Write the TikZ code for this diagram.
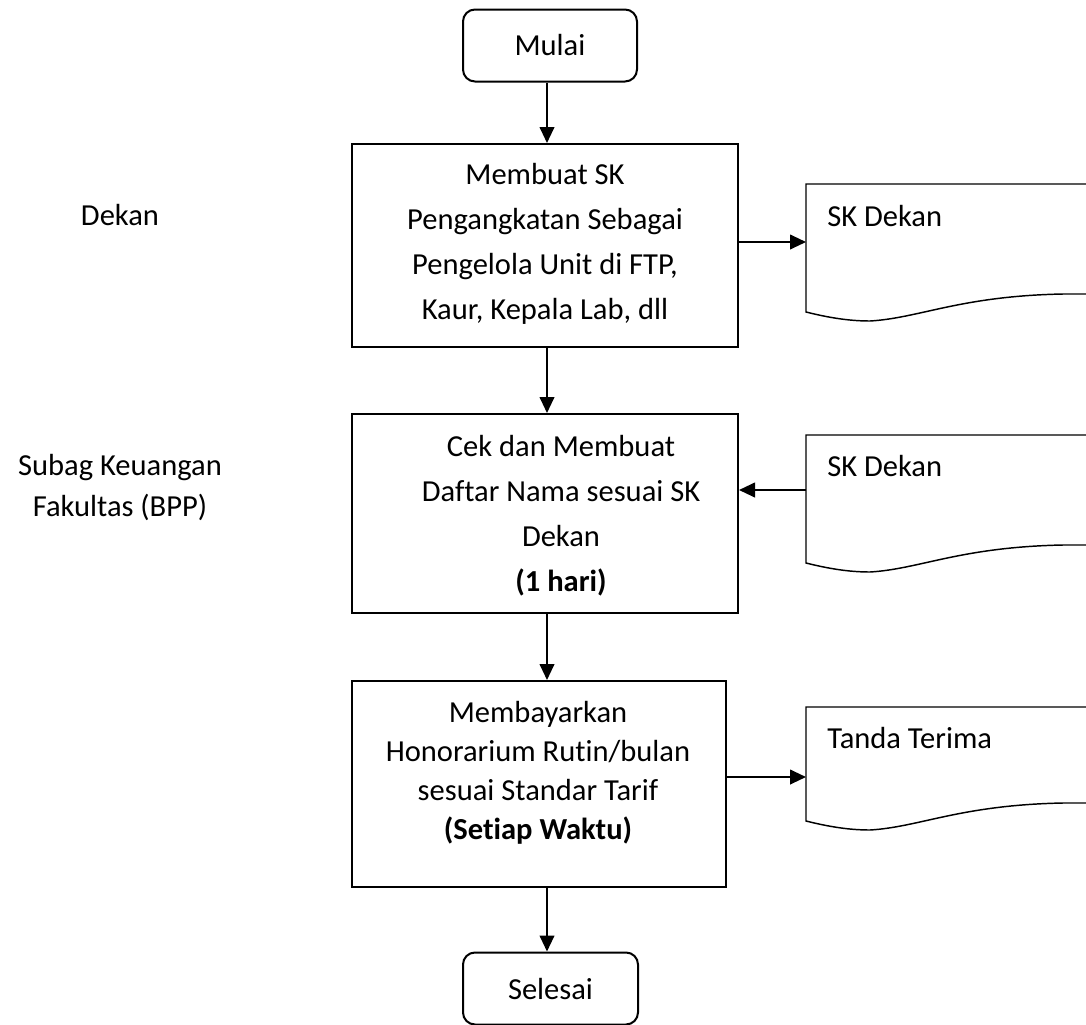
\documentclass[tikz,border=0pt]{standalone}
\usepackage{fontspec}
\setmainfont{Carlito}[Ligatures=NoCommon]
\usepackage{tikz}
\usetikzlibrary{arrows.meta}
\tikzstyle{every node}=[inner sep=0pt, font=\fontsize{22.9}{33.75}\selectfont]
\tikzstyle{terminal}=[draw, rectangle, rounded corners=9pt, line width=1.5pt,
                      minimum width=130.5pt, minimum height=54pt]
\tikzstyle{proc}=[draw, rectangle, line width=1.5pt, minimum width=289.5pt]
\tikzstyle{flow}=[line width=1.5pt, -{Triangle[length=12pt,width=11pt]}]
\tikzstyle{doc}=[line width=1.1pt]

\begin{document}
\begin{tikzpicture}[x=0.75pt, y=-0.75pt]
      \useasboundingbox (0,0) rectangle (1086,1025);
      \coordinate (axis) at (547,0);

      \node (dekan) at (120,215) {Dekan};
      \node[align=center, font=\fontsize{22.9}{30.75}\selectfont] (subag) at (120,488)
        {Subag Keuangan\\Fakultas (BPP)};

      \node[terminal] (mulai) at (550,45.5) {Mulai};
      \node[proc, minimum height=152.25pt] (box1) at (545,245.5) {};
      \node[align=center] (box1txt) at (545,244)
        {Membuat SK\\Pengangkatan Sebagai\\Pengelola Unit di FTP,\\Kaur, Kepala Lab, dll};
      \node[proc, minimum height=149.25pt] (box2) at (545,513.5) {};
      \node[align=center] (box2txt) at (561,516)
        {Cek dan Membuat\\Daftar Nama sesuai SK\\Dekan\\\textbf{(1 hari)}};
      \node[proc, minimum width=280.5pt, minimum height=154.5pt] (box3) at (539,784) {};
      \node[align=center, font=\fontsize{22.9}{29.25}\selectfont] (box3txt) at (538,773)
        {Membayarkan\\Honorarium Rutin/bulan\\sesuai Standar Tarif\\\textbf{(Setiap Waktu)}};
      \node[terminal, minimum width=131.25pt] (selesai) at (550.5,988.5) {Selesai};

      \foreach \t/\h in {184/128, 435/128, 707/114}
        \draw[doc] (1086,\t) -- (806,\t) -- (806,\t+\h)
          .. controls (830,\t+\h+6) and (850,\t+\h+9) .. (870,\t+\h+9)
          .. controls (920,\t+\h+6) and (960,\t+\h-16) .. (1063,\t+\h-18)
          -- (1086,\t+\h-18);
      \node[anchor=west] (sk1) at (827,216) {SK Dekan};
      \node[anchor=west] (sk2) at (827,466) {SK Dekan};
      \node[anchor=west] (tanda) at (827,738) {Tanda Terima};
      \coordinate (in1) at (806,242);
      \coordinate (out2) at (806,490);
      \coordinate (in3) at (806,777);

      \draw[flow] (mulai.south -| axis) -- (box1.north -| axis);
      \draw[flow] (box1.south -| axis) -- (box2.north -| axis);
      \draw[flow] (box2.south -| axis) -- (box3.north -| axis);
      \draw[flow] (box3.south -| axis) -- (selesai.north -| axis);
      \draw[flow] (box1.east |- in1) -- (in1);
      \draw[flow] (out2) -- (box2.east |- out2);
      \draw[flow] (box3.east |- in3) -- (in3);
\end{tikzpicture}
\end{document}
